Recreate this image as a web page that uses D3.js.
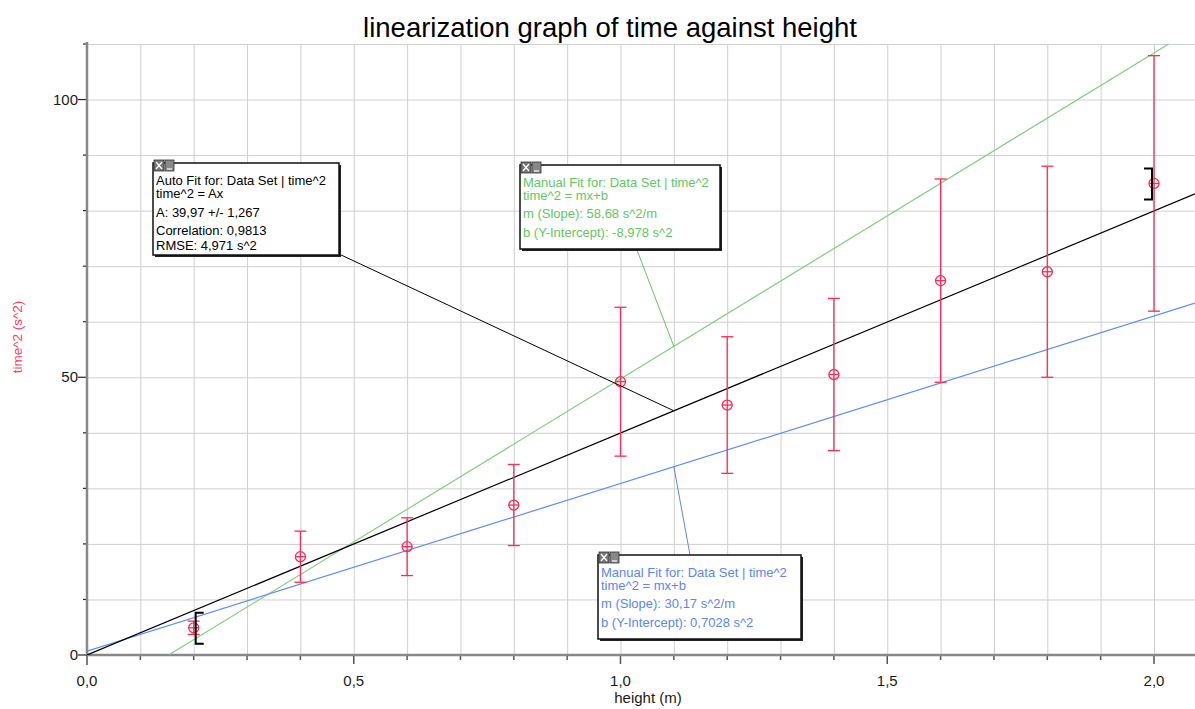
<!DOCTYPE html>
<html lang="en">
<head>
<meta charset="UTF-8">
<title>linearization graph of time against height</title>
<script src="https://d3js.org/d3.v7.min.js"></script>
<style>
body {margin: 0; background: white;}
svg {display: block; font-family: "Liberation Sans", Arial, sans-serif;}
.grid line {stroke: #cfcfcf; stroke-width: 1;}
.grid path {display: none;}
.ticklbl {font-size: 15px; fill: #1a1a1a;}
.box rect.frame {fill: white; stroke: #111; stroke-width: 1.5;}
.box text {font-size: 13px;}
</style>
</head>
<body>
<svg width="1195" height="709"></svg>
<script>
// measured data: height (m) vs time^2 (s^2)
var heights = [0.2, 0.4, 0.6, 0.8, 1.0, 1.2, 1.4, 1.6, 1.8, 2.0];
var timeSq  = [4.9, 17.7, 19.5, 27.0, 49.2, 45.0, 50.5, 67.4, 69.0, 84.9];
var timeErr = [1.2, 4.6, 5.2, 7.3, 13.4, 12.3, 13.7, 18.3, 19.0, 23.0];

// fits
var autoA = 39.97;
var greenM = 58.68, greenB = -8.978;
var blueM = 30.17, blueB = 0.7028;

var xTickLabels = [0, 0.5, 1.0, 1.5, 2.0];
var yTickLabels = [0, 50, 100];

var autoText = ["Auto Fit for: Data Set | time^2", "time^2 = Ax", "A: 39,97 +/- 1,267", "Correlation: 0,9813", "RMSE: 4,971 s^2"];
var greenText = ["Manual Fit for: Data Set | time^2", "time^2 = mx+b", "m (Slope): 58,68 s^2/m", "b (Y-Intercept): -8,978 s^2"];
var blueText = ["Manual Fit for: Data Set | time^2", "time^2 = mx+b", "m (Slope): 30,17 s^2/m", "b (Y-Intercept): 0,7028 s^2"];

var svg = d3.select("svg");
var pLeft = 87, pTop = 44, pRight = 1195, pBottom = 655;

var xs = d3.scaleLinear().domain([0, (pRight - pLeft) / 533.5]).range([pLeft, pRight]);
var ys = d3.scaleLinear().domain([0, 110]).range([pBottom, pTop]);

var minorX = d3.range(1, 21).map(function(i){ return i / 10; });
var minorY = d3.range(1, 12).map(function(i){ return i * 10; });

// grid
svg.append("g").attr("class", "grid")
  .attr("transform", "translate(0," + pBottom + ")")
  .call(d3.axisBottom(xs).tickValues(minorX).tickSize(-(pBottom - pTop)).tickFormat(""));
svg.append("g").attr("class", "grid")
  .attr("transform", "translate(" + pLeft + ",0)")
  .call(d3.axisLeft(ys).tickValues(minorY).tickSize(-(pRight - pLeft)).tickFormat(""));

// ticks
svg.append("g").selectAll("line").data(minorX).enter().append("line")
  .attr("x1", function(d){ return xs(d); }).attr("x2", function(d){ return xs(d); })
  .attr("y1", pBottom).attr("y2", function(d){ return pBottom + (Math.abs(d * 2 - Math.round(d * 2)) < 1e-6 ? 9 : 5); })
  .attr("stroke", "#555").attr("stroke-width", 1.5);
svg.append("line").attr("x1", pLeft).attr("x2", pLeft).attr("y1", pBottom).attr("y2", pBottom + 10)
  .attr("stroke", "#555").attr("stroke-width", 1.5);
svg.append("g").selectAll("line").data([0].concat(minorY)).enter().append("line")
  .attr("y1", function(d){ return ys(d); }).attr("y2", function(d){ return ys(d); })
  .attr("x1", pLeft).attr("x2", function(d){ return pLeft - (d % 50 == 0 ? 9 : 4); })
  .attr("stroke", "#222").attr("stroke-width", 1.2);

// axis lines
svg.append("line").attr("x1", pLeft).attr("x2", pLeft).attr("y1", pTop - 2).attr("y2", pBottom)
  .attr("stroke", "#888").attr("stroke-width", 2.5);
svg.append("line").attr("x1", pLeft).attr("x2", pRight).attr("y1", pBottom).attr("y2", pBottom)
  .attr("stroke", "#888").attr("stroke-width", 2.5);

// tick labels
svg.append("g").selectAll("text").data(xTickLabels).enter().append("text")
  .attr("class", "ticklbl").attr("text-anchor", "middle")
  .attr("x", function(d){ return xs(d); }).attr("y", pBottom + 31)
  .text(function(d){ return d3.format(".1f")(d).replace(".", ","); });
svg.append("g").selectAll("text").data(yTickLabels).enter().append("text")
  .attr("class", "ticklbl").attr("text-anchor", "end")
  .attr("x", pLeft - 9).attr("y", function(d){ return ys(d) + 5; })
  .text(function(d){ return d; });

// title and axis labels
svg.append("text").attr("x", 610).attr("y", 37).attr("text-anchor", "middle")
  .attr("font-size", "27.5px").attr("fill", "#000").text("linearization graph of time against height");
svg.append("text").attr("x", 648).attr("y", 703).attr("text-anchor", "middle")
  .attr("font-size", "15px").attr("fill", "#1a1a1a").text("height (m)");
svg.append("text").attr("transform", "translate(22,337) rotate(-90)").attr("text-anchor", "middle")
  .attr("font-size", "13.5px").attr("fill", "#ff3a5c").text("time^2 (s^2)");

// clip for fit lines
svg.append("clipPath").attr("id", "plot").append("rect")
  .attr("x", pLeft).attr("y", pTop).attr("width", pRight - pLeft).attr("height", pBottom - pTop);
var fits = svg.append("g").attr("clip-path", "url(#plot)");

function fitLine(m, b, color) {
  var x0 = Math.max(0, -b / m), x1 = xs.domain()[1];
  fits.append("line")
    .attr("x1", xs(x0)).attr("y1", ys(m * x0 + b))
    .attr("x2", xs(x1)).attr("y2", ys(m * x1 + b))
    .attr("stroke", color).attr("stroke-width", 1.2);
}
fitLine(greenM, greenB, "#7fd07f");
fitLine(blueM, blueB, "#5b8ff5");
fitLine(autoA, 0, "#000");

// error bars and points
var pts = heights.map(function(h, i){ return {x: h, y: timeSq[i], e: timeErr[i]}; });
var red = "#ff2a55";
var eb = svg.append("g").selectAll("g").data(pts).enter().append("g");
eb.append("line")
  .attr("x1", function(d){ return xs(d.x); }).attr("x2", function(d){ return xs(d.x); })
  .attr("y1", function(d){ return ys(d.y + d.e); }).attr("y2", function(d){ return ys(d.y - d.e); })
  .attr("stroke", red).attr("stroke-width", 1.3);
[1, -1].forEach(function(s){
  eb.append("line")
    .attr("x1", function(d){ return xs(d.x) - 6; }).attr("x2", function(d){ return xs(d.x) + 6; })
    .attr("y1", function(d){ return ys(d.y + s * d.e); }).attr("y2", function(d){ return ys(d.y + s * d.e); })
    .attr("stroke", red).attr("stroke-width", 1.3);
});
eb.append("circle")
  .attr("cx", function(d){ return xs(d.x); }).attr("cy", function(d){ return ys(d.y); })
  .attr("r", 5).attr("fill", "none").attr("stroke", red).attr("stroke-width", 1.3);
eb.append("line")
  .attr("x1", function(d){ return xs(d.x) - 5; }).attr("x2", function(d){ return xs(d.x) + 5; })
  .attr("y1", function(d){ return ys(d.y); }).attr("y2", function(d){ return ys(d.y); })
  .attr("stroke", red).attr("stroke-width", 1.3);

// range brackets at first and last point
function bracket(i, dir) {
  var x = xs(heights[i]) + 2 * dir, y = ys(timeSq[i]);
  svg.append("path")
    .attr("d", "M" + (x + 8 * dir) + "," + (y - 15) + "H" + x + "V" + (y + 16) + "H" + (x + 8 * dir))
    .attr("fill", "none").attr("stroke", "#000").attr("stroke-width", 2);
}
bracket(0, 1);
bracket(heights.length - 1, -1);

// annotation boxes
function callout(bx, by, bw, bh, lines, color, fromX, fromY, fitY, gaps) {
  svg.append("line").attr("x1", fromX).attr("y1", fromY)
    .attr("x2", xs(1.1)).attr("y2", ys(fitY))
    .attr("stroke", color).attr("stroke-width", 1);
  var g = svg.append("g").attr("class", "box");
  g.append("rect").attr("x", bx + 2).attr("y", by + 2).attr("width", bw).attr("height", bh).attr("fill", "#222");
  g.append("rect").attr("class", "frame").attr("x", bx).attr("y", by).attr("width", bw).attr("height", bh);
  // close / minimise buttons
  g.append("rect").attr("x", bx + 1).attr("y", by - 3).attr("width", 10).attr("height", 11)
    .attr("fill", "#777").attr("stroke", "#333").attr("stroke-width", 0.8);
  g.append("path").attr("d", "M" + (bx + 3) + "," + (by - 1) + "l6,7M" + (bx + 9) + "," + (by - 1) + "l-6,7")
    .attr("stroke", "#fff").attr("stroke-width", 1.2);
  g.append("rect").attr("x", bx + 12).attr("y", by - 3).attr("width", 9).attr("height", 11)
    .attr("fill", "#888").attr("stroke", "#333").attr("stroke-width", 0.8);
  g.append("line").attr("x1", bx + 14).attr("x2", bx + 19).attr("y1", by + 6).attr("y2", by + 6)
    .attr("stroke", "#fff").attr("stroke-width", 1.2);
  var yy = by + 22;
  lines.forEach(function(t, i){
    g.append("text").attr("x", bx + 3).attr("y", yy).attr("fill", color).text(t);
    yy += gaps[i] || 0;
  });
}
callout(153, 163, 186, 92, autoText, "#000", 339, 254, autoA * 1.1, [13, 19, 18, 15]);
callout(520, 165, 200, 84, greenText, "#5fc85f", 637, 250, greenM * 1.1 + greenB, [13, 18, 19]);
callout(598, 555, 203, 84, blueText, "#5b86f5", 690, 555, blueM * 1.1 + blueB, [13, 18, 19]);
</script>
</body>
</html>
